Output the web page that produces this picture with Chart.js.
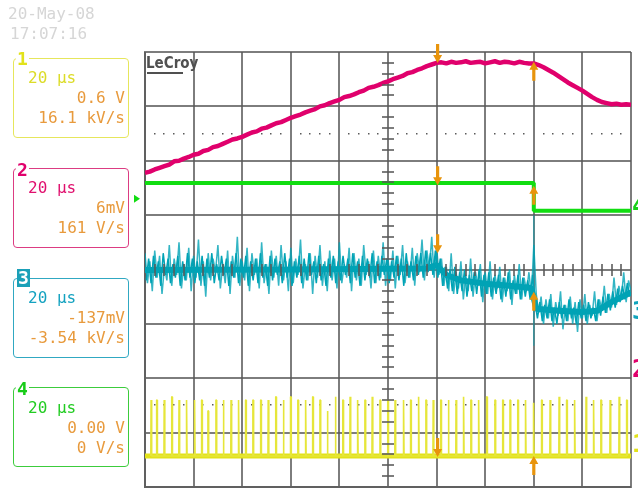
<!DOCTYPE html>
<html>
<head>
<meta charset="utf-8">
<title>LeCroy capture</title>
<script src="https://cdn.jsdelivr.net/npm/chart.js@4.4.1/dist/chart.umd.min.js"></script>
<style>
  body { margin:0; width:638px; height:489px; overflow:hidden; position:relative; background:#fff;
         font-family:"DejaVu Sans Mono", monospace; }
  canvas { position:absolute; left:0; top:0; }
  .t   { position:absolute; font-size:16px; line-height:16px; white-space:pre; }
  .r   { left:13px; width:112px; text-align:right; }
  .box { position:absolute; left:13px; width:116px; height:80px; box-sizing:border-box;
         border:1.5px solid; border-radius:4px; }
  .num { position:absolute; left:16px; font-size:18px; line-height:18px; font-weight:bold;
         background:#fff; padding:0 1px; }
  .side { position:absolute; left:632px; font-size:24px; line-height:24px; font-weight:bold; }
  .date { color:#d6d6d6; }
  .ora  { color:#e89a3c; }
</style>
</head>
<body>
<canvas id="scope" width="638" height="489"></canvas>

<div class="t date" style="left:8px;top:6px">20-May-08</div>
<div class="t date" style="left:10px;top:26px">17:07:16</div>

<!-- channel 1 -->
<div class="box" style="top:58px;border-color:#e6e65c"></div>
<div class="num" style="top:50px;color:#e2e21a">1</div>
<div class="t" style="left:28px;top:70px;color:#dcdc28">20 µs</div>
<div class="t r ora" style="top:90px">0.6 V</div>
<div class="t r ora" style="top:110px">16.1 kV/s</div>

<!-- channel 2 -->
<div class="box" style="top:168px;border-color:#dc3c82"></div>
<div class="num" style="top:161px;color:#e0006c">2</div>
<div class="t" style="left:28px;top:180px;color:#e0106e">20 µs</div>
<div class="t r ora" style="top:200px">6mV</div>
<div class="t r ora" style="top:220px">161 V/s</div>

<!-- channel 3 -->
<div class="box" style="top:278px;border-color:#30a8c2"></div>
<div class="num" style="top:269px;left:17px;color:#fff;background:#1aa0b8;padding:0 1px">3</div>
<div class="t" style="left:28px;top:290px;color:#14a2c0">20 µs</div>
<div class="t r ora" style="top:310px">-137mV</div>
<div class="t r ora" style="top:330px">-3.54 kV/s</div>

<!-- channel 4 -->
<div class="box" style="top:387px;border-color:#3ccc3c"></div>
<div class="num" style="top:380px;color:#18cc18">4</div>
<div class="t" style="left:28px;top:400px;color:#22cc22">20 µs</div>
<div class="t r ora" style="top:420px">0.00 V</div>
<div class="t r ora" style="top:440px">0 V/s</div>

<!-- logo -->
<div style="position:absolute;left:146px;top:56px;font:bold 15px/15px 'DejaVu Sans Condensed','DejaVu Sans',sans-serif;color:#505050">LeCroy</div>
<div style="position:absolute;left:147px;top:72px;width:36px;height:2px;background:#505050"></div>

<!-- ground markers on the right edge -->
<div class="side" style="top:194px;color:#18d018">4</div>
<div class="side" style="top:299px;color:#10a4bc">3</div>
<div class="side" style="top:357px;color:#e0006c">2</div>
<div class="side" style="top:432px;color:#e2e21a">1</div>

<script>
// ─── Data (time in µs, amplitude in screen divisions, 0 = bottom) ────────────

const MAG_STEP_US  = 2;   // magenta sampled every 2 µs
const CYAN_STEP_US = 1;   // cyan sampled every 1 µs (second pass offset by 0.5 µs)

const magentaValues = [
  5.78, 5.80, 5.84, 5.87, 5.90, 5.93, 5.99, 6.00, 6.04, 6.07,
  6.11, 6.13, 6.18, 6.20, 6.25, 6.27, 6.31, 6.35, 6.39, 6.41,
  6.44, 6.48, 6.52, 6.54, 6.59, 6.61, 6.65, 6.69, 6.71, 6.75,
  6.79, 6.82, 6.85, 6.89, 6.92, 6.95, 7.00, 7.02, 7.06, 7.09,
  7.12, 7.17, 7.19, 7.22, 7.26, 7.29, 7.34, 7.36, 7.39, 7.43,
  7.46, 7.50, 7.53, 7.56, 7.61, 7.63, 7.67, 7.70, 7.74, 7.77,
  7.80, 7.81, 7.79, 7.82, 7.80, 7.81, 7.83, 7.80, 7.81, 7.82,
  7.79, 7.81, 7.83, 7.80, 7.82, 7.81, 7.79, 7.82, 7.80, 7.79,
  7.79, 7.76, 7.72, 7.67, 7.62, 7.56, 7.50, 7.44, 7.39, 7.34,
  7.29, 7.23, 7.17, 7.12, 7.08, 7.06, 7.04, 7.05, 7.03, 7.04,
  7.03
];

const cyanValues = [
  4.30, 3.75, 4.15, 3.60, 4.35, 3.85, 4.25, 3.55, 4.05, 3.80, 4.45, 3.70, 4.20, 3.90, 4.50, 3.65, 4.10, 3.80, 4.40, 3.60,
  4.25, 3.85, 4.55, 3.70, 4.15, 3.50, 4.30, 3.80, 4.20, 3.95, 4.45, 3.65, 4.10, 3.75, 4.35, 3.55, 4.25, 3.85, 4.60, 3.70,
  4.15, 3.80, 4.40, 3.60, 4.30, 3.90, 4.20, 3.65, 4.50, 3.75, 4.10, 3.55, 4.35, 3.85, 4.25, 3.70, 4.45, 3.80, 4.15, 3.60,
  4.40, 3.75, 4.20, 3.90, 4.55, 3.65, 4.10, 3.80, 4.30, 3.55, 4.25, 3.85, 4.45, 3.70, 4.15, 3.60, 4.35, 3.80, 4.20, 3.65,
  4.50, 3.75, 4.10, 3.85, 4.40, 3.60, 4.30, 3.80, 4.20, 3.70, 4.45, 3.90, 4.15, 3.65, 4.35, 3.75, 4.25, 3.85, 4.50, 3.70,
  4.20, 3.80, 4.35, 3.65, 4.25, 3.90, 4.45, 3.75, 4.15, 3.85, 4.40, 3.70, 4.30, 3.95, 4.55, 3.80, 4.35, 4.00, 4.60, 3.85,
  4.40, 3.90, 4.20, 3.70, 4.05, 3.60, 4.30, 3.55, 3.95, 3.65, 4.15, 3.45, 3.90, 3.60, 4.20, 3.50, 3.95, 3.70, 4.10, 3.40,
  3.95, 3.55, 4.15, 3.45, 3.90, 3.65, 4.05, 3.40, 3.85, 3.60, 4.00, 3.35, 3.90, 3.55, 4.10, 3.45, 3.85, 3.60, 3.95, 3.50,
  4.45, 3.55, 3.20, 3.50, 3.00, 3.45, 3.10, 3.55, 2.95, 3.40, 3.15, 3.60, 2.90, 3.35, 3.05, 3.50, 3.00, 3.40, 2.85, 3.45,
  3.10, 3.55, 3.00, 3.35, 3.15, 3.60, 3.05, 3.45, 3.25, 3.70, 3.20, 3.55, 3.30, 3.85, 3.35, 3.70, 3.45, 3.95, 3.40, 3.80,
  3.60
];

// second, denser pass of the cyan band (samples at 0.5, 1.5, ... µs)
const cyanValuesB = [
  3.80, 4.20, 3.75, 4.25, 3.85, 4.15, 3.70, 4.30, 3.90, 4.20, 3.75, 4.10, 3.85, 4.25, 3.70, 4.15, 3.80, 4.30, 3.85, 4.20,
  3.75, 4.15, 3.80, 4.25, 3.70, 4.20, 3.85, 4.30, 3.75, 4.10, 3.80, 4.25, 3.90, 4.20, 3.70, 4.15, 3.85, 4.30, 3.75, 4.20,
  3.85, 4.25, 3.70, 4.15, 3.80, 4.20, 3.75, 4.30, 3.85, 4.10, 3.70, 4.25, 3.80, 4.20, 3.90, 4.15, 3.75, 4.30, 3.85, 4.20,
  3.70, 4.15, 3.85, 4.25, 3.75, 4.20, 3.80, 4.30, 3.90, 4.15, 3.75, 4.25, 3.80, 4.10, 3.70, 4.20, 3.85, 4.25, 3.75, 4.15,
  3.80, 4.25, 3.90, 4.20, 3.75, 4.30, 3.85, 4.15, 3.70, 4.25, 3.80, 4.20, 3.85, 4.30, 3.75, 4.15, 3.80, 4.25, 3.90, 4.20,
  3.75, 4.15, 3.85, 4.25, 3.80, 4.20, 3.70, 4.30, 3.85, 4.15, 3.80, 4.25, 3.90, 4.30, 3.85, 4.35, 3.95, 4.30, 3.90, 4.35,
  3.85, 4.20, 3.70, 4.05, 3.65, 4.00, 3.60, 4.05, 3.55, 3.95, 3.60, 4.00, 3.50, 3.90, 3.60, 3.95, 3.55, 4.00, 3.50, 3.90,
  3.55, 3.95, 3.50, 3.85, 3.55, 3.90, 3.45, 3.85, 3.50, 3.95, 3.45, 3.80, 3.55, 3.90, 3.45, 3.85, 3.50, 3.80, 3.45, 3.90,
  3.40, 3.10, 3.40, 3.05, 3.35, 3.10, 3.45, 3.05, 3.30, 3.00, 3.40, 3.10, 3.35, 3.05, 3.45, 3.10, 3.30, 3.00, 3.40, 3.10,
  3.35, 3.05, 3.40, 3.10, 3.30, 3.05, 3.45, 3.15, 3.50, 3.20, 3.55, 3.25, 3.60, 3.30, 3.65, 3.40, 3.70, 3.45, 3.75, 3.50
];

// middle of the cyan noise band
const cyanCoreTimes  = [0, 60, 116, 120, 124, 130, 140, 150, 159, 161, 170, 180, 186, 192, 200];
const cyanCoreValues = [3.99, 4.00, 4.02, 4.08, 3.90, 3.80, 3.74, 3.70, 3.66, 3.28, 3.24, 3.22, 3.24, 3.40, 3.58];

const greenTimes  = [0, 160, 160, 200];
const greenValues = [5.59, 5.59, 5.08, 5.08];

const cyanCursorTimes  = [160, 160];
const cyanCursorValues = [5.0, 2.6];

const yellowBaseTimes  = [0, 200];
const yellowBaseValues = [0.57, 0.57];

const pulseTimes = [
  2.5, 4.8, 7.9, 11.0, 14.0, 17.0, 20.3, 23.3, 25.9, 29.2,
  32.2, 35.4, 38.4, 41.4, 44.4, 47.6, 50.7, 53.8, 56.9, 59.9,
  62.9, 66.0, 69.0, 72.0, 75.0, 78.3, 81.4, 84.4, 87.4, 90.5,
  93.5, 96.7, 99.9, 102.9, 106.3, 109.3, 112.5, 115.6, 118.6, 121.7,
  124.8, 128.0, 131.0, 134.1, 137.2, 140.6, 144.0, 147.2, 150.2, 153.4,
  156.5, 159.8, 163.2, 166.7, 170.4, 173.5, 176.7, 181.5, 184.5, 187.6,
  191.4, 195.1, 198.2
];
const pulseTops = [
  1.60, 1.60, 1.60, 1.66, 1.60, 1.60, 1.60, 1.60, 1.40, 1.60,
  1.60, 1.60, 1.60, 1.60, 1.60, 1.60, 1.60, 1.66, 1.60, 1.66,
  1.60, 1.60, 1.66, 1.60, 1.40, 1.66, 1.60, 1.66, 1.60, 1.60,
  1.66, 1.60, 1.60, 1.60, 1.60, 1.60, 1.66, 1.60, 1.60, 1.60,
  1.60, 1.60, 1.66, 1.60, 1.60, 1.66, 1.60, 1.60, 1.60, 1.60,
  1.60, 1.55, 1.60, 1.60, 1.66, 1.60, 1.60, 1.66, 1.60, 1.60,
  1.60, 1.66, 1.60
];

// cursors (orange arrows)
const cursorTimes   = [120, 160];
const downArrowTips = [7.80, 5.55, 4.30, 0.55];   // at cursor 1, per channel
const upArrowTips   = [7.82, 5.54, 3.59, 0.57];   // at cursor 2

const dottedLevels   = [6.5, 1.5];
const triggerLevel   = 5.30;

// ─── Colours ──────────────────────────────────────────────────────────────────
const C_YEL  = '#e2e21a';
const C_MAG  = '#e0006c';
const C_CYAN = '#00a3b5';
const C_GRN  = '#11dd11';
const C_ORA  = '#e8940c';
const C_GRID = 'rgba(88,88,88,0.78)';

// ─── Helpers ──────────────────────────────────────────────────────────────────

function sampled(values, step, offset = 0) {
  return values.map((v, i) => ({ x: offset + i * step, y: v }));
}

function paired(xs, ys) {
  return xs.map((x, i) => ({ x, y: ys[i] }));
}

function pulsePoints(times, tops, base) {
  const pts = [];
  times.forEach((t, i) => {
    pts.push({ x: t - 0.1, y: base }, { x: t, y: tops[i] },
             { x: t + 0.2, y: tops[i] }, { x: t + 0.3, y: base });
  });
  return pts;
}

function trace(data, color, width) {
  return {
    data, borderColor: color, borderWidth: width, pointRadius: 0,
    tension: 0, borderJoinStyle: 'bevel', fill: false,
  };
}

function drawArrow(ctx, px, tipY, dir) {
  // dir = 1 -> pointing down, -1 -> pointing up
  const len = 19, head = 8, half = 4.5, shaft = 1.6;
  const tailY = tipY - dir * len;
  const baseY = tipY - dir * head;
  ctx.beginPath();
  ctx.moveTo(px - shaft, tailY);
  ctx.lineTo(px + shaft, tailY);
  ctx.lineTo(px + shaft, baseY);
  ctx.lineTo(px + half, baseY);
  ctx.lineTo(px, tipY);
  ctx.lineTo(px - half, baseY);
  ctx.lineTo(px - shaft, baseY);
  ctx.closePath();
  ctx.fill();
}

// ─── Scope overlay plugin ─────────────────────────────────────────────────────

const scopeMarks = {
  id: 'scopeMarks',
  beforeDatasetsDraw(chart) {
    const { ctx, scales: { x, y } } = chart;
    ctx.save();
    ctx.fillStyle = '#5a5a5a';
    dottedLevels.forEach(v => {
      const py = Math.round(y.getPixelForValue(v));
      for (let t = 4; t < 200; t += 4) {
        if (t % 20 === 0) continue;
        ctx.fillRect(Math.round(x.getPixelForValue(t)) - 1, py - 1, 1.5, 1.5);
      }
    });
    ctx.restore();
  },
  afterDraw(chart) {
    const { ctx, scales: { x, y } } = chart;
    ctx.save();

    // minor ticks on the centre cross
    ctx.fillStyle = C_GRID;
    const cx = Math.round(x.getPixelForValue(100));
    const cy = Math.round(y.getPixelForValue(4));
    for (let v = 0.2; v < 8; v += 0.2) {
      if (Math.abs(v - Math.round(v)) < 0.01) continue;
      ctx.fillRect(cx - 6, Math.round(y.getPixelForValue(v)) - 1, 12, 2);
    }
    for (let t = 4; t < 200; t += 4) {
      if (t % 20 === 0) continue;
      ctx.fillRect(Math.round(x.getPixelForValue(t)) - 1, cy - 6, 2, 12);
    }

    // cursor arrows
    ctx.fillStyle = C_ORA;
    const x1 = x.getPixelForValue(cursorTimes[0]) + 1;
    const x2 = x.getPixelForValue(cursorTimes[1]);
    downArrowTips.forEach(v => drawArrow(ctx, x1, y.getPixelForValue(v), 1));
    upArrowTips.forEach(v => drawArrow(ctx, x2, y.getPixelForValue(v), -1));

    // trigger level marker (left of grid)
    const ty = y.getPixelForValue(triggerLevel);
    ctx.fillStyle = C_GRN;
    ctx.beginPath();
    ctx.moveTo(134, ty - 4);
    ctx.lineTo(140, ty);
    ctx.lineTo(134, ty + 4);
    ctx.closePath();
    ctx.fill();

    ctx.restore();
  }
};

// ─── Chart ────────────────────────────────────────────────────────────────────

const gridScale = (min, max, step) => ({
  type: 'linear', min, max, z: 1,
  ticks: { display: false, stepSize: step },
  grid: { color: C_GRID, lineWidth: 2, drawTicks: false },
  border: { display: true, color: C_GRID, width: 2 },
});

new Chart(document.getElementById('scope'), {
  type: 'line',
  data: {
    datasets: [
      trace(sampled(magentaValues, MAG_STEP_US), C_MAG, 4.5),
      trace(paired(greenTimes, greenValues), C_GRN, 4),
      trace(sampled(cyanValues, CYAN_STEP_US), 'rgba(0,163,181,0.8)', 1.5),
      trace(sampled(cyanValuesB, CYAN_STEP_US, 0.5), C_CYAN, 1.5),
      trace(paired(cyanCoreTimes, cyanCoreValues), C_CYAN, 6),
      trace(paired(cyanCursorTimes, cyanCursorValues), 'rgba(0,163,181,0.55)', 1.5),
      trace(pulsePoints(pulseTimes, pulseTops, yellowBaseValues[0]), '#e6e63a', 1.6),
      trace(paired(yellowBaseTimes, yellowBaseValues), C_YEL, 5),
    ]
  },
  options: {
    responsive: false,
    animation: false,
    devicePixelRatio: 1,
    layout: { padding: { left: 145, top: 52, right: 7, bottom: 2 } },
    plugins: { legend: { display: false }, tooltip: { enabled: false } },
    scales: {
      x: gridScale(0, 200, 20),
      y: gridScale(0, 8, 1),
    }
  },
  plugins: [scopeMarks]
});
</script>
</body>
</html>
